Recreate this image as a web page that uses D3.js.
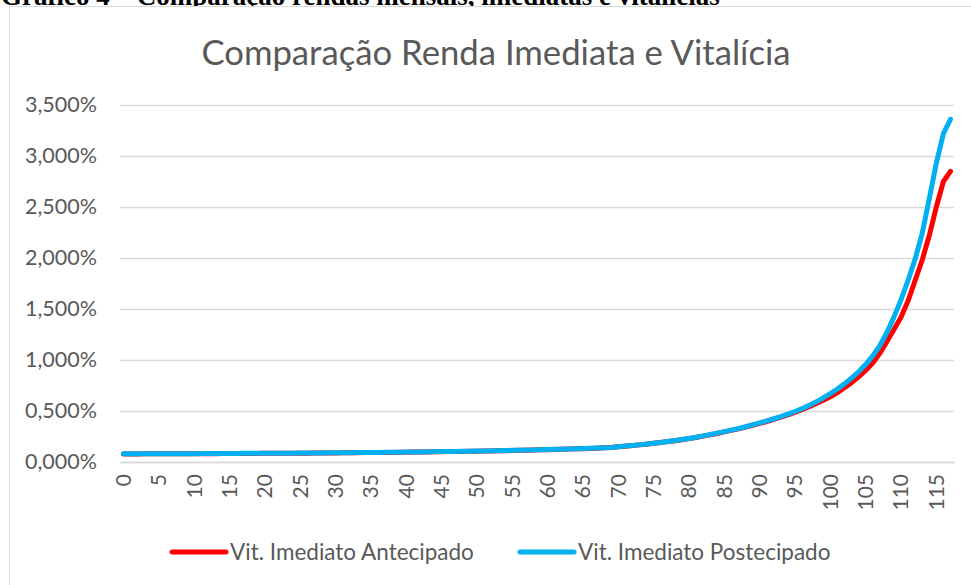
<!DOCTYPE html>
<html>
<head>
<meta charset="utf-8">
<script src="https://cdn.jsdelivr.net/npm/d3@7"></script>
<style>
  body { margin: 0; background: #fff; overflow: hidden; }
  svg { display: block; }
</style>
</head>
<body>
<div class="chart"></div>
<script>
// ages 0..117 (categories)
const ages = d3.range(0, 118)
const xTickLabels = [0, 5, 10, 15, 20, 25, 30, 35, 40, 45, 50, 55, 60, 65, 70, 75, 80, 85, 90, 95, 100, 105, 110, 115]
const yTicks = [0, 0.5, 1, 1.5, 2, 2.5, 3, 3.5]

// % values
const antecipado = [
    0.079, 0.079, 0.079, 0.080, 0.080, 0.080, 0.080, 0.081, 0.081, 0.081,
    0.081, 0.082, 0.082, 0.082, 0.083, 0.083, 0.083, 0.084, 0.084, 0.084,
    0.085, 0.085, 0.086, 0.086, 0.086, 0.087, 0.087, 0.088, 0.088, 0.089,
    0.089, 0.090, 0.090, 0.091, 0.092, 0.092, 0.093, 0.094, 0.094, 0.095,
    0.096, 0.097, 0.098, 0.099, 0.100, 0.101, 0.102, 0.103, 0.104, 0.105,
    0.106, 0.107, 0.109, 0.110, 0.111, 0.113, 0.114, 0.116, 0.117, 0.119,
    0.121, 0.123, 0.125, 0.127, 0.129, 0.131, 0.133, 0.136, 0.139, 0.142,
    0.149, 0.155, 0.161, 0.168, 0.175, 0.183, 0.191, 0.200, 0.209, 0.219,
    0.229, 0.241, 0.254, 0.266, 0.280, 0.295, 0.310, 0.325, 0.342, 0.360,
    0.378, 0.397, 0.418, 0.439, 0.462, 0.486, 0.512, 0.541, 0.573, 0.606,
    0.640, 0.680, 0.728, 0.778, 0.835, 0.898, 0.970, 1.065, 1.180, 1.300,
    1.420, 1.580, 1.780, 1.980, 2.220, 2.500, 2.750, 2.850
]
const postecipado = [
    0.080, 0.080, 0.080, 0.081, 0.081, 0.081, 0.081, 0.082, 0.082, 0.082,
    0.082, 0.083, 0.083, 0.083, 0.084, 0.084, 0.084, 0.085, 0.085, 0.085,
    0.086, 0.086, 0.087, 0.087, 0.087, 0.088, 0.088, 0.089, 0.089, 0.090,
    0.090, 0.091, 0.091, 0.092, 0.093, 0.093, 0.094, 0.095, 0.095, 0.096,
    0.097, 0.098, 0.099, 0.100, 0.101, 0.102, 0.103, 0.104, 0.105, 0.106,
    0.107, 0.108, 0.110, 0.111, 0.112, 0.114, 0.115, 0.117, 0.118, 0.120,
    0.122, 0.124, 0.126, 0.128, 0.130, 0.132, 0.134, 0.137, 0.140, 0.143,
    0.150, 0.156, 0.162, 0.169, 0.176, 0.184, 0.192, 0.201, 0.210, 0.220,
    0.231, 0.243, 0.256, 0.269, 0.283, 0.298, 0.313, 0.329, 0.346, 0.364,
    0.383, 0.403, 0.424, 0.446, 0.470, 0.495, 0.523, 0.555, 0.590, 0.628,
    0.670, 0.716, 0.766, 0.822, 0.885, 0.955, 1.040, 1.140, 1.270, 1.420,
    1.590, 1.780, 1.990, 2.240, 2.580, 2.930, 3.220, 3.360
]

const seriesNames = ["Vit. Imediato Antecipado", "Vit. Imediato Postecipado"]
const seriesColors = ["#ff0000", "#00b0f0"]

const W = 971, H = 585
const plot = { left: 120, right: 954, top: 105, bottom: 462 }

const svg = d3.select(".chart").append("svg")
    .attr("width", W)
    .attr("height", H)

// caption above the chart (cut off at top in the original)
svg.append("text")
    .attr("x", 1)
    .attr("y", 5)
    .attr("font-family", "Liberation Serif")
    .attr("font-weight", "bold")
    .attr("font-size", 27)
    .attr("fill", "#000")
    .text("Gráfico 4 – Comparação rendas mensais, imediatas e vitalícias")

// chart frame
svg.append("rect")
    .attr("x", 9.5)
    .attr("y", 6.5)
    .attr("width", 1000)
    .attr("height", 700)
    .attr("fill", "#fff")
    .attr("stroke", "#d9d9d9")
    .attr("stroke-width", 1)

svg.append("text")
    .attr("x", 496)
    .attr("y", 65)
    .attr("text-anchor", "middle")
    .attr("font-family", "Lato")
    .attr("font-size", 34.7)
    .attr("fill", "#595959")
    .text("Comparação Renda Imediata e Vitalícia")

let xScale = d3.scaleBand()
    .domain(ages)
    .range([plot.left, plot.right])
    .padding(0)

let yScale = d3.scaleLinear()
    .domain([0, 3.5])
    .range([plot.bottom, plot.top])

const locale = d3.formatLocale({ decimal: ",", thousands: ".", grouping: [3], currency: ["", ""] })
const fmt = locale.format(".3f")

// gridlines + y labels
let yAxis = d3.axisLeft(yScale)
    .tickValues(yTicks)
    .tickSize(-(plot.right - plot.left))
    .tickPadding(23)
    .tickFormat(d => fmt(d) + "%")

let gy = svg.append("g")
    .attr("class", "axis y-axis")
    .attr("transform", `translate(${plot.left},0)`)
    .call(yAxis)
gy.select(".domain").remove()
gy.selectAll(".tick line").attr("stroke", "#d9d9d9").attr("stroke-width", 1.3)
gy.selectAll(".tick text")
    .attr("font-family", "Lato")
    .attr("font-size", 21.5)
    .attr("fill", "#595959")

// x axis
let xAxis = d3.axisBottom(xScale)
    .tickValues(xTickLabels)
    .tickSize(0)
    .tickPadding(0)

let gx = svg.append("g")
    .attr("class", "axis x-axis")
    .attr("transform", `translate(0,${plot.bottom})`)
    .call(xAxis)
gx.select(".domain").attr("stroke", "#d9d9d9").attr("stroke-width", 1.3)
gx.selectAll(".tick text")
    .attr("font-family", "Lato")
    .attr("font-size", 21)
    .attr("fill", "#595959")
    .attr("text-anchor", "end")
    .attr("transform", "rotate(-90)")
    .attr("x", -12)
    .attr("y", 0)
    .attr("dy", "0.35em")

const line = d3.line()
    .x((d, i) => xScale(ages[i]) + xScale.bandwidth() / 2)
    .y(d => yScale(d))

const series = [antecipado, postecipado]
series.forEach((s, k) => {
    svg.append("path")
        .datum(s)
        .attr("fill", "none")
        .attr("stroke", seriesColors[k])
        .attr("stroke-width", 5)
        .attr("stroke-linecap", "round")
        .attr("stroke-linejoin", "round")
        .attr("d", line)
})

// legend
const legendX = [172, 520]
let legend = svg.append("g").attr("class", "legend")
seriesNames.forEach((name, k) => {
    let g = legend.append("g").attr("transform", `translate(${legendX[k]},552)`)
    g.append("line")
        .attr("x1", 0).attr("x2", 54)
        .attr("stroke", seriesColors[k])
        .attr("stroke-width", 5)
        .attr("stroke-linecap", "round")
    g.append("text")
        .attr("x", 58)
        .attr("dy", "0.35em")
        .attr("font-family", "Lato")
        .attr("font-size", 22.5)
        .attr("fill", "#595959")
        .text(name)
})
</script>
</body>
</html>
